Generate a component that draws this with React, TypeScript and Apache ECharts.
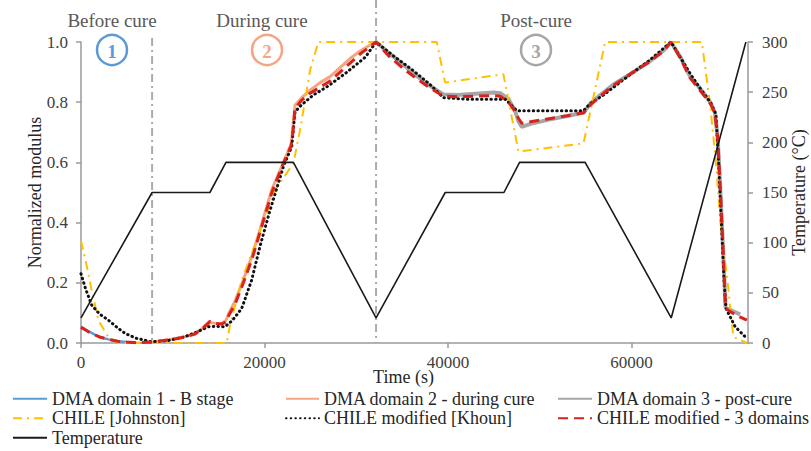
import React, { useEffect, useRef } from "react";
import * as echarts from "echarts";

// ---------- data ----------
const xTicks = [0, 20000, 40000, 60000];
const cureBoundaries = [7750, 32160];

const tempTime = [0, 7750, 14050, 15800, 23150, 32160, 39700, 46100, 47800, 54950, 64330, 72470];
const tempVal = [25, 150, 150, 180, 180, 25, 150, 150, 180, 180, 25, 300];

const dma1Time = [0, 500, 1000, 1500, 2000, 2500, 3000, 4000, 5000, 6000, 7000, 7750];
const dma1Val = [0.055, 0.045, 0.036, 0.028, 0.021, 0.016, 0.012, 0.006, 0.003, 0.001, 0.0, 0.0];

const dma2Time = [7750, 9000, 10000, 11340, 12430, 13300, 14050, 14500, 15300, 15800, 16130, 16800, 17700, 18650, 19730, 20800, 22060, 22900, 23100, 23330, 24060, 24970, 26060, 27150, 28240, 29330, 30420, 31510, 32160];
const dma2Val = [0.003, 0.008, 0.013, 0.021, 0.032, 0.05, 0.068, 0.066, 0.064, 0.075, 0.1, 0.14, 0.21, 0.29, 0.4, 0.51, 0.6, 0.66, 0.72, 0.79, 0.815, 0.84, 0.865, 0.885, 0.915, 0.945, 0.97, 0.99, 1.0];

const dma3Time = [32160, 33500, 35000, 36500, 38000, 39500, 41000, 43000, 45000, 45700, 46600, 47300, 47700, 48050, 49000, 51000, 53000, 54800, 55500, 56600, 58000, 60200, 62000, 63500, 64300, 65300, 66400, 67500, 68600, 69100, 69400, 69700, 70000, 70250, 71000, 71850];
const dma3Val = [1.0, 0.965, 0.928, 0.89, 0.855, 0.826, 0.824, 0.828, 0.832, 0.83, 0.81, 0.772, 0.735, 0.718, 0.728, 0.742, 0.754, 0.766, 0.795, 0.824, 0.858, 0.9, 0.936, 0.972, 1.0, 0.952, 0.885, 0.845, 0.8, 0.765, 0.68, 0.5, 0.3, 0.118, 0.106, 0.095];

const johnstonTime = [0, 600, 1160, 1890, 2980, 4000, 15880, 16250, 17520, 19160, 21150, 23150, 23880, 24970, 25870, 38780, 39690, 46040, 47680, 54770, 57130, 67670, 68580, 69200, 69700, 70210, 70580, 70800, 71120, 72580];
const johnstonVal = [0.34, 0.26, 0.176, 0.076, 0.02, 0.0, 0.0, 0.06, 0.209, 0.342, 0.508, 0.597, 0.708, 0.907, 1.0, 1.0, 0.865, 0.893, 0.636, 0.663, 1.0, 1.0, 0.79, 0.6, 0.4, 0.265, 0.176, 0.099, 0.02, 0.0];

const khounTime = [0, 500, 1160, 2000, 2980, 4000, 4800, 6000, 7700, 9500, 11340, 12500, 13880, 14800, 15700, 16500, 17520, 18600, 19500, 20500, 21500, 22100, 22970, 23330, 24000, 25330, 27000, 29000, 31000, 32160, 34000, 36000, 38000, 39500, 42000, 46230, 47500, 50000, 54770, 55500, 57000, 60000, 62000, 64300, 65500, 66500, 67500, 68600, 69200, 69500, 69800, 70100, 70300, 71300, 72390];
const khounVal = [0.23, 0.18, 0.126, 0.097, 0.076, 0.05, 0.032, 0.016, 0.004, 0.008, 0.021, 0.035, 0.054, 0.055, 0.054, 0.075, 0.115, 0.209, 0.32, 0.43, 0.53, 0.59, 0.652, 0.768, 0.79, 0.824, 0.855, 0.9, 0.95, 1.0, 0.955, 0.91, 0.86, 0.815, 0.81, 0.81, 0.772, 0.772, 0.772, 0.795, 0.825, 0.895, 0.94, 1.0, 0.94, 0.89, 0.845, 0.8, 0.76, 0.6, 0.4, 0.2, 0.115, 0.054, 0.021];

const threeDomTime = [0, 500, 1000, 1500, 2000, 3000, 4000, 5000, 6000, 7750, 9000, 10000, 11340, 12430, 13300, 14050, 14500, 15300, 15800, 16130, 16800, 17700, 18650, 19730, 20800, 22060, 22900, 23100, 23330, 24060, 24970, 26060, 27150, 28240, 29330, 30420, 31510, 32160, 33500, 35000, 36500, 38000, 39500, 41000, 43000, 45000, 45700, 46600, 47300, 47700, 48050, 49000, 51000, 53000, 54800, 55500, 56600, 58000, 60200, 62000, 63500, 64300, 65300, 66400, 67500, 68600, 69100, 69400, 69700, 70000, 70250, 71000, 71800, 72580];
const threeDomVal = [0.052, 0.043, 0.034, 0.027, 0.02, 0.012, 0.006, 0.003, 0.001, 0.003, 0.008, 0.012, 0.02, 0.03, 0.05, 0.072, 0.066, 0.063, 0.07, 0.093, 0.13, 0.2, 0.28, 0.39, 0.5, 0.597, 0.655, 0.7, 0.78, 0.807, 0.83, 0.85, 0.87, 0.9, 0.93, 0.96, 0.985, 1.0, 0.955, 0.915, 0.88, 0.848, 0.82, 0.818, 0.82, 0.822, 0.82, 0.8, 0.77, 0.745, 0.73, 0.735, 0.745, 0.755, 0.765, 0.79, 0.82, 0.855, 0.9, 0.935, 0.97, 1.0, 0.948, 0.88, 0.838, 0.795, 0.762, 0.68, 0.5, 0.3, 0.115, 0.1, 0.087, 0.076];

const phaseTitles = ["Before cure", "During cure", "Post-cure"];
const phaseNumbers = ["1", "2", "3"];

const zip = (t: number[], v: number[]) => t.map((x, i) => [x, v[i]]);

const FONT = "'Liberation Serif', 'Times New Roman', serif";
const TEXT = "#262626";
const AXIS = "#9a9a9a";

export default function App() {
  const ref = useRef<HTMLDivElement>(null);

  useEffect(() => {
    if (!ref.current) return;
    const chart = echarts.init(ref.current, null, { renderer: "svg" });

    const axisCommon = {
      axisLine: { show: true, lineStyle: { color: AXIS, width: 1.5 } },
      axisTick: { show: true, length: 5, lineStyle: { color: AXIS, width: 1.5 } },
      splitLine: { show: false },
      nameMoveOverlap: false,
    };

    const lineSeries = (name: string, t: number[], v: number[], color: string, width: number, type: any, extra: any = {}) => ({
      name,
      type: "line",
      data: zip(t, v),
      showSymbol: false,
      symbol: "none",
      lineStyle: { color, width, type, ...extra },
      itemStyle: { color },
      silent: true,
    });

    const legendCommon = {
      orient: "vertical",
      top: 389,
      padding: 0,
      itemGap: 0,
      itemHeight: 14,
      itemStyle: { opacity: 0 },
      textStyle: { fontFamily: FONT, fontSize: 18, color: TEXT, lineHeight: 19.5 },
    };

    chart.setOption({
      animation: false,
      backgroundColor: "#ffffff",
      textStyle: { fontFamily: FONT },
      grid: { left: 81, right: 63, top: 42, bottom: 108, containLabel: false, outerBoundsMode: "none" },
      legend: [
        { ...legendCommon, left: 12, itemWidth: 34, data: ["DMA domain 1 - B stage", "CHILE [Johnston]", "Temperature"] },
        { ...legendCommon, left: 285, itemWidth: 33, data: ["DMA domain 2 - during cure", "CHILE modified [Khoun]"] },
        { ...legendCommon, left: 557, itemWidth: 34, data: ["DMA domain 3 - post-cure", "CHILE modified - 3 domains"] },
      ],
      xAxis: {
        type: "value",
        min: xTicks[0],
        max: 72700,
        interval: xTicks[1] - xTicks[0],
        ...axisCommon,
        axisLabel: { fontSize: 17, color: "#404040", margin: 11, showMaxLabel: false, fontFamily: FONT, formatter: (v: number) => String(v) },
        name: "Time (s)",
        nameLocation: "middle",
        nameGap: 25,
        nameTextStyle: { fontSize: 18, color: TEXT, fontFamily: FONT, lineHeight: 17, padding: [0, 22, 0, 0] },
      },
      yAxis: [
        {
          type: "value",
          min: 0,
          max: 1,
          interval: 0.2,
          position: "left",
          ...axisCommon,
          axisLabel: { fontSize: 17, color: "#404040", margin: 13, fontFamily: FONT, formatter: (v: number) => v.toFixed(1) },
          name: "Normalized modulus",
          nameLocation: "middle",
          nameGap: 37,
          nameRotate: 90,
          nameTextStyle: { fontSize: 18, color: TEXT, fontFamily: FONT },
        },
        {
          type: "value",
          min: 0,
          max: 300,
          interval: 50,
          position: "right",
          ...axisCommon,
          axisLabel: { fontSize: 17, color: "#404040", margin: 14, fontFamily: FONT },
          name: "Temperature (°C)",
          nameLocation: "middle",
          nameGap: 42,
          nameRotate: 90,
          nameTextStyle: { fontSize: 18, color: TEXT, fontFamily: FONT },
        },
      ],
      series: [
        lineSeries("DMA domain 1 - B stage", dma1Time, dma1Val, "#5B9BD5", 2.5, "solid"),
        lineSeries("DMA domain 2 - during cure", dma2Time, dma2Val, "#F4A582", 3, "solid"),
        lineSeries("DMA domain 3 - post-cure", dma3Time, dma3Val, "#A6A6A6", 4, "solid"),
        lineSeries("CHILE [Johnston]", johnstonTime, johnstonVal, "#FFC000", 2, [9, 5, 2, 5]),
        lineSeries("CHILE modified [Khoun]", khounTime, khounVal, "#111111", 3, [0.5, 4.2], { cap: "round" }),
        lineSeries("CHILE modified - 3 domains", threeDomTime, threeDomVal, "#D8221C", 3, [10, 6]),
        { ...lineSeries("Temperature", tempTime, tempVal, "#1a1a1a", 1.6, "solid"), yAxisIndex: 1 },
      ],
    });

    // vertical phase boundaries, placed through the x scale
    const y0 = chart.convertToPixel({ yAxisIndex: 0 }, 0) as number;
    const lineTops = [38, 0];
    const boundaryLines = cureBoundaries.map((t, i) => {
      const x = chart.convertToPixel({ xAxisIndex: 0 }, t) as number;
      return {
        type: "line",
        z: 0,
        shape: { x1: x, y1: lineTops[i], x2: x, y2: y0 },
        style: { stroke: "#ABABAB", lineWidth: 2, lineDash: [8, 4, 2, 4] },
        silent: true,
      };
    });

    const titleX = [112, 262, 536];
    const circleX = [112, 267, 536];
    const circleColors = ["#5B9BD5", "#F4A582", "#A6A6A6"];
    const annotations: any[] = [];
    phaseTitles.forEach((title, i) => {
      annotations.push({
        type: "text",
        x: titleX[i],
        y: 20,
        style: { text: title, fontFamily: FONT, fontSize: 19, fill: "#595959", align: "center", verticalAlign: "middle" },
        silent: true,
      });
      annotations.push({
        type: "circle",
        shape: { cx: circleX[i], cy: 50, r: 15 },
        style: { fill: "#ffffff", stroke: circleColors[i], lineWidth: 2.5 },
        silent: true,
      });
      annotations.push({
        type: "text",
        x: circleX[i],
        y: 51,
        style: { text: phaseNumbers[i], fontFamily: FONT, fontSize: 19, fontWeight: "bold", fill: circleColors[i], align: "center", verticalAlign: "middle" },
        silent: true,
      });
    });

    chart.setOption({ graphic: [...boundaryLines, ...annotations] });

    return () => chart.dispose();
  }, []);

  return <div ref={ref} style={{ position: "fixed", left: 0, top: 0, width: 811, height: 451 }} />;
}
